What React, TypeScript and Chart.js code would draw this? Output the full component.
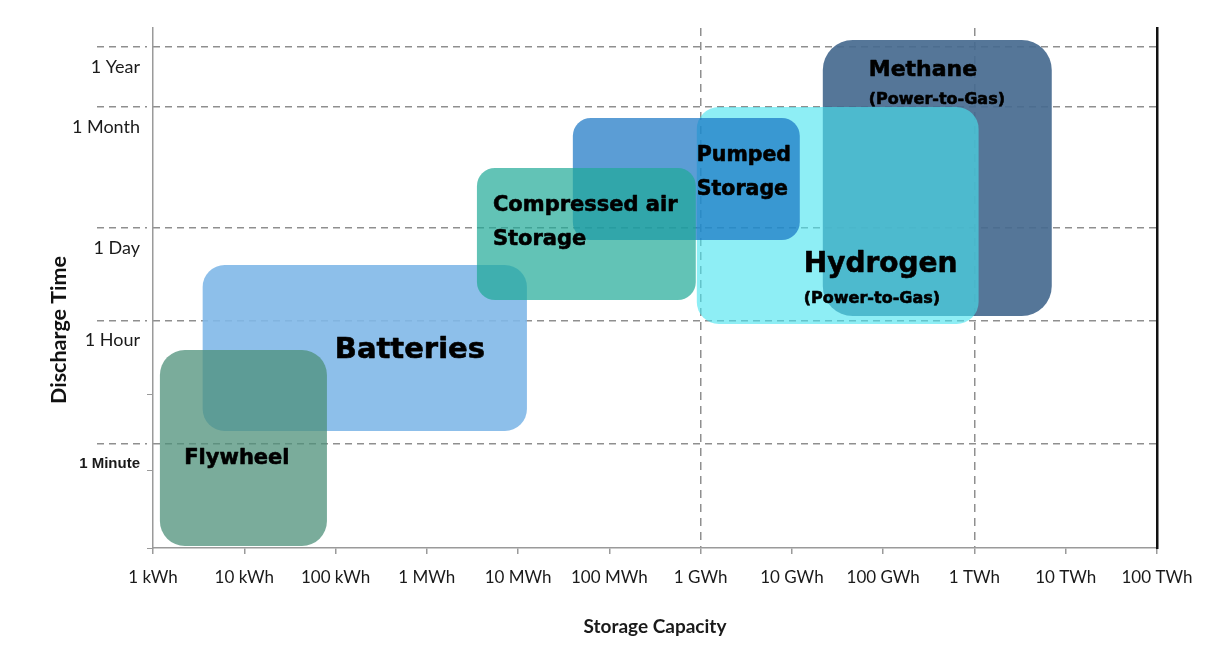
import { useEffect, useRef } from 'react';
import { Chart, registerables } from 'chart.js';

Chart.register(...registerables);

// ---------- data ----------
// storage technologies, in drawing order (back to front)
const technologies = ['Batteries', 'Flywheel', 'Methane', 'Hydrogen', 'Pumped Storage', 'Compressed air Storage'];
// storage capacity range, kWh
const capacityMin = [3.5, 1.19, 2.18e7, 9.08e5, 3.98e4, 3.54e3];
const capacityMax = [1.25e4, 80.5, 7.03e9, 1.11e9, 1.22e7, 8.85e5];
// discharge time range, in positions on the (schematic) discharge-time axis
const timeMin = [11.7, 0.2, 23.2, 22.4, 30.8, 24.8];
const timeMax = [28.3, 19.8, 50.8, 44.1, 43.0, 38.0];
// labels written inside the areas
const labelLines = [
  ['Batteries'],
  ['Flywheel'],
  ['Methane', '(Power-to-Gas)'],
  ['Hydrogen', '(Power-to-Gas)'],
  ['Pumped', 'Storage'],
  ['Compressed air', 'Storage'],
];
const labelCapacity = [653, 8.3, 6.95e7, 1.35e7, 9.08e5, 5.3e3];
const labelTime = [19.8, 8.9, 47.8, 28.3, 39.2, 34.2];

// axes
const xTickValues = [1, 10, 100, 1e3, 1e4, 1e5, 1e6, 1e7, 1e8, 1e9, 1e10, 1e11];
const xTickLabels = ['1 kWh', '10 kWh', '100 kWh', '1 MWh', '10 MWh', '100 MWh', '1 GWh', '10 GWh', '100 GWh', '1 TWh', '10 TWh', '100 TWh'];
const xGridValues = [1e6, 1e9];
const yTickValues = [10.4, 22.75, 32, 44.1, 50.1];
const yTickLabels = ['1 Minute', '1 Hour', '1 Day', '1 Month', '1 Year'];
const yMinorTicks = [0, 7.8, 15.3];
const yRange = [0, 52];

// ---------- styles ----------
const boxColors = [
  'rgba(129,184,232,0.9)',
  'rgba(78,144,122,0.75)',
  'rgba(70,106,143,0.92)',
  'rgba(72,227,239,0.62)',
  'rgba(21,116,195,0.7)',
  'rgba(31,169,151,0.7)',
];
const boxRadius = [22, 25, 30, 22, 18, 18];
const labelAlign: CanvasTextAlign[] = ['center', 'center', 'left', 'left', 'left', 'left'];
const labelSizes = [
  [29],
  [21],
  [22, 16],
  [28, 16],
  [20.5, 20.5],
  [21, 21],
];
const labelLineGap = [0, 0, 30, 34, 34, 34];
const gridGray = '#8f8f8f';
const axisGray = '#9a9a9a';

const boxesPlugin = {
  id: 'boxes',
  afterDatasetsDraw(chart: any) {
    const { ctx } = chart;
    chart.data.datasets.forEach((ds: any, i: number) => {
      const meta = chart.getDatasetMeta(i);
      const [a, b] = meta.data;
      const left = Math.min(a.x, b.x);
      const top = Math.min(a.y, b.y);
      const w = Math.abs(b.x - a.x);
      const h = Math.abs(b.y - a.y);
      ctx.save();
      ctx.fillStyle = ds.backgroundColor;
      ctx.beginPath();
      ctx.roundRect(left, top, w, h, boxRadius[i]);
      ctx.fill();
      // label
      const lx = chart.scales.x.getPixelForValue(labelCapacity[i]);
      const ly = chart.scales.y.getPixelForValue(labelTime[i]);
      ctx.fillStyle = '#000';
      ctx.strokeStyle = '#000';
      ctx.lineWidth = 0.6;
      ctx.lineJoin = 'round';
      ctx.textAlign = labelAlign[i];
      ctx.textBaseline = 'middle';
      labelLines[i].forEach((line, j) => {
        ctx.font = `bold ${labelSizes[i][j]}px "DejaVu Sans"`;
        ctx.fillText(line, lx, ly + j * labelLineGap[i]);
        ctx.strokeText(line, lx, ly + j * labelLineGap[i]);
      });
      ctx.restore();
    });
  },
};

const yTitlePlugin = {
  id: 'yTitle',
  afterDraw(chart: any) {
    const { ctx, chartArea } = chart;
    ctx.save();
    ctx.translate(59, (chartArea.top + chartArea.bottom) / 2 + 42);
    ctx.rotate(-Math.PI / 2);
    ctx.font = 'bold 21.5px Lato';
    ctx.fillStyle = '#111';
    ctx.textAlign = 'center';
    ctx.textBaseline = 'middle';
    ctx.fillText('Discharge Time', 0, 0);
    ctx.restore();
  },
};

export default function App() {
  const ref = useRef<HTMLCanvasElement>(null);
  useEffect(() => {
    const chart = new Chart(ref.current as HTMLCanvasElement, {
      type: 'scatter',
      data: {
        datasets: technologies.map((t, i) => ({
          label: t,
          data: [
            { x: capacityMin[i], y: timeMin[i] },
            { x: capacityMax[i], y: timeMax[i] },
          ],
          backgroundColor: boxColors[i],
          pointRadius: 0,
          pointHoverRadius: 0,
          showLine: false,
        })),
      },
      options: {
        animation: false,
        responsive: true,
        maintainAspectRatio: false,
        events: [],
        layout: { padding: { top: 28, left: 0, right: 0, bottom: 0 } },
        plugins: {
          legend: { display: false },
          tooltip: { enabled: false },
        },
        scales: {
          x: {
            type: 'logarithmic',
            min: xTickValues[0],
            max: xTickValues[xTickValues.length - 1],
            afterBuildTicks: (s: any) => {
              s.ticks = xTickValues.map((v) => ({ value: v }));
            },
            afterFit: (s: any) => {
              s.height = 107;
            },
            border: { display: true, color: axisGray, width: 1.5, dash: [8, 6] },
            grid: {
              color: (c: any) => (c.tick && xGridValues.includes(c.tick.value) ? gridGray : 'rgba(0,0,0,0)'),
              lineWidth: 1.5,
              drawTicks: true,
              tickLength: 6,
              tickColor: axisGray,
              tickBorderDash: [],
            },
            ticks: {
              autoSkip: false,
              maxRotation: 0,
              padding: 13,
              color: '#1a1a1a',
              font: { family: 'Lato', size: 17 },
              callback: (_v: any, i: number) => xTickLabels[i],
            },
            title: {
              display: true,
              text: 'Storage Capacity',
              color: '#1a1a1a',
              font: { family: 'Lato', size: 19, weight: 'bold' },
              padding: { top: 0, bottom: 17 },
            },
          },
          y: {
            type: 'linear',
            position: 'left',
            weight: 1,
            min: yRange[0],
            max: yRange[1],
            afterBuildTicks: (s: any) => {
              s.ticks = yTickValues.map((v) => ({ value: v }));
            },
            afterFit: (s: any) => {
              s.width = 147;
            },
            border: { display: false, dash: [7, 5] },
            grid: {
              color: gridGray,
              lineWidth: 1.5,
              drawTicks: true,
              tickLength: 50,
              tickColor: gridGray,
              tickBorderDash: [7, 5],
            },
            ticks: {
              padding: -43,
              labelOffset: 20,
              color: '#1a1a1a',
              font: (c: any) =>
                c.index === 0
                  ? { family: 'Liberation Sans', size: 15, weight: 'bold' }
                  : { family: 'Lato', size: 18 },
              callback: (_v: any, i: number) => yTickLabels[i],
            },
          },
          yMinor: {
            type: 'linear',
            position: 'left',
            weight: 0,
            min: yRange[0],
            max: yRange[1],
            afterBuildTicks: (s: any) => {
              s.ticks = yMinorTicks.map((v) => ({ value: v }));
            },
            afterFit: (s: any) => {
              s.width = 6;
            },
            border: { display: true, color: axisGray, width: 1.5 },
            grid: {
              drawOnChartArea: false,
              drawTicks: true,
              tickLength: 6,
              color: axisGray,
            },
            ticks: { display: false },
          },
          yRight: {
            type: 'linear',
            position: 'right',
            min: yRange[0],
            max: yRange[1],
            afterFit: (s: any) => {
              s.width = 64;
            },
            border: { display: true, color: '#111', width: 2.5 },
            grid: { drawOnChartArea: false, drawTicks: false },
            ticks: { display: false },
          },
        },
      } as any,
      plugins: [boxesPlugin, yTitlePlugin],
    });
    return () => chart.destroy();
  }, []);
  return (
    <div style={{ position: 'absolute', left: 0, top: 0, width: 1221, height: 655, background: '#fff' }}>
      <canvas ref={ref} />
    </div>
  );
}
